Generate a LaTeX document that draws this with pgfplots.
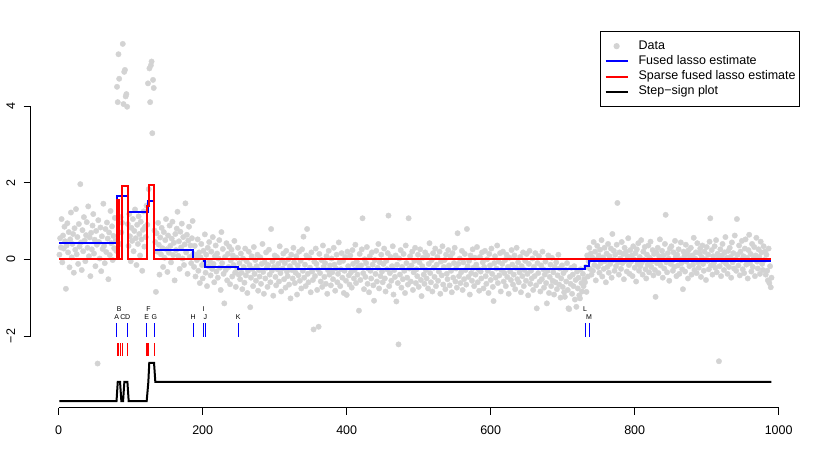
\documentclass[border=0pt]{standalone}
\usepackage{fontspec}
\setmainfont{Liberation Sans}
\usepackage{pgfplots}
\usepackage{pgfplotstable}
\pgfplotsset{compat=1.18}
\definecolor{ptgray}{HTML}{D3D3D3}

% observations, one per index 1..990
\pgfplotstableread[row sep=\\]{
y\\
0.12\\ 0.55\\ 0.31\\ 1.05\\ -0.08\\ 0.62\\ 0.28\\ 0.85\\ 0.47\\ -0.77\\
0.36\\ 0.94\\ 0.18\\ 0.71\\ -0.21\\ 0.52\\ 1.22\\ 0.05\\ 0.40\\ 0.66\\
-0.35\\ 0.81\\ 0.25\\ 1.31\\ 0.13\\ 0.58\\ -0.12\\ 0.92\\ 0.33\\ 1.96\\
0.44\\ -0.28\\ 0.76\\ 0.21\\ 1.10\\ 0.49\\ -0.05\\ 0.63\\ 0.97\\ 0.30\\
1.38\\ 0.08\\ 0.57\\ -0.44\\ 0.69\\ 0.26\\ 0.88\\ 1.18\\ 0.15\\ 0.51\\
-0.18\\ 0.74\\ 0.38\\ -2.72\\ 1.02\\ 0.45\\ 0.02\\ 0.83\\ -0.31\\ 0.60\\
0.27\\ 1.45\\ 0.35\\ -0.10\\ 0.79\\ 0.19\\ 0.96\\ 0.54\\ -0.52\\ 0.70\\
0.11\\ 1.26\\ 0.42\\ 0.86\\ -0.02\\ 0.61\\ 0.29\\ 1.08\\ 0.48\\ 0.22\\
4.50\\ 4.10\\ 5.35\\ 4.71\\ 0.40\\ 1.10\\ 0.70\\ 0.95\\ 5.62\\ 4.05\\
4.89\\ 4.94\\ 4.25\\ 4.31\\ 3.98\\ 0.92\\ 0.35\\ 1.18\\ 0.60\\ -0.05\\
0.82\\ 0.48\\ 1.05\\ 0.21\\ 0.74\\ 1.30\\ 0.55\\ -0.15\\ 0.90\\ 0.40\\
1.12\\ 0.66\\ 0.10\\ 0.98\\ 0.52\\ -0.30\\ 0.77\\ 1.25\\ 0.33\\ 0.85\\
0.58\\ 1.40\\ 0.90\\ 4.59\\ 1.83\\ 4.98\\ 4.10\\ 5.06\\ 5.16\\ 3.29\\
4.68\\ 4.47\\ 0.75\\ 0.45\\ -0.85\\ 0.68\\ 0.20\\ 0.95\\ 0.38\\ -0.40\\
0.57\\ 0.13\\ 0.82\\ 0.29\\ -0.20\\ 0.71\\ 0.04\\ 0.50\\ 1.05\\ 0.26\\
-0.33\\ 0.62\\ 0.17\\ 0.88\\ 0.35\\ -0.08\\ 0.54\\ 0.98\\ 0.11\\ 0.43\\
-0.55\\ 0.66\\ 0.24\\ 0.80\\ 1.24\\ 0.09\\ 0.47\\ -0.25\\ 0.72\\ 0.31\\
0.93\\ 0.02\\ 0.58\\ -0.15\\ 0.39\\ 1.46\\ 0.18\\ 0.64\\ -0.38\\ 0.49\\
0.85\\ 0.06\\ 0.36\\ -0.10\\ 0.55\\ 1.00\\ 0.14\\ -0.20\\ 0.35\\ -0.45\\
0.10\\ -0.02\\ 0.52\\ -0.30\\ 0.18\\ -0.62\\ 0.05\\ 0.40\\ -0.15\\ -0.50\\
0.22\\ -0.08\\ 0.65\\ -0.35\\ 0.12\\ -0.70\\ 0.30\\ -0.18\\ 0.45\\ -0.05\\
-0.42\\ 0.20\\ -0.25\\ 0.58\\ -0.12\\ -0.60\\ 0.08\\ 0.36\\ -0.32\\ 0.15\\
-0.48\\ 0.02\\ 0.50\\ -0.22\\ -0.80\\ 0.71\\ -0.10\\ 0.27\\ -0.38\\ -1.15\\
0.06\\ -0.28\\ 0.42\\ -0.55\\ 0.14\\ -0.20\\ 0.33\\ -0.65\\ -0.03\\ 0.25\\
-0.45\\ 0.10\\ -0.15\\ 0.48\\ -0.35\\ -0.72\\ 0.04\\ -0.25\\ 0.30\\ -0.40\\
-0.10\\ -0.52\\ 0.15\\ -0.35\\ -0.78\\ 0.02\\ -0.20\\ -0.61\\ 0.28\\ -0.42\\
-0.05\\ -0.88\\ -0.30\\ 0.20\\ -0.15\\ -1.25\\ -0.48\\ 0.08\\ -0.25\\ -0.70\\
0.32\\ -0.38\\ -0.02\\ -0.56\\ -0.18\\ 0.12\\ -0.82\\ -0.28\\ -0.45\\ 0.05\\
-0.64\\ -0.12\\ 0.40\\ -0.33\\ -0.90\\ -0.08\\ -0.50\\ 0.18\\ -0.22\\ -0.72\\
-0.15\\ 0.25\\ -0.40\\ -0.60\\ 0.79\\ -0.30\\ -0.05\\ -0.95\\ -0.20\\ 0.10\\
-0.46\\ -0.68\\ 0.06\\ -0.26\\ -0.12\\ -0.58\\ 0.34\\ -0.36\\ -0.84\\ -0.02\\
-0.24\\ 0.15\\ -0.52\\ -0.10\\ -0.74\\ 0.22\\ -0.32\\ -0.44\\ 0.00\\ -0.66\\
-0.18\\ -1.02\\ 0.12\\ -0.28\\ -0.50\\ 0.30\\ -0.08\\ -0.62\\ -0.35\\ 0.08\\
-0.92\\ -0.16\\ -0.42\\ 0.20\\ -0.56\\ -0.04\\ -0.76\\ 0.26\\ -0.30\\ 0.59\\
-0.48\\ -0.14\\ -0.70\\ 0.10\\ 0.79\\ -0.38\\ -0.60\\ 0.04\\ -0.22\\ -0.86\\
0.18\\ -0.32\\ -0.54\\ -1.83\\ -0.06\\ -0.44\\ 0.28\\ -0.12\\ -0.80\\ -0.26\\
-1.76\\ 0.14\\ -0.36\\ -0.58\\ -0.02\\ -0.72\\ 0.36\\ -0.20\\ -0.46\\ -0.10\\
-0.64\\ 0.08\\ -0.90\\ -0.28\\ 0.22\\ -0.40\\ -0.16\\ -0.68\\ 0.02\\ -0.34\\
-0.52\\ 0.30\\ -0.14\\ -0.82\\ -0.24\\ 0.12\\ -0.60\\ -0.38\\ 0.44\\ -0.08\\
-0.70\\ -0.26\\ 0.16\\ -0.48\\ -0.04\\ -0.88\\ -0.30\\ 0.06\\ -0.56\\ -0.93\\
0.20\\ -0.18\\ -0.42\\ -0.66\\ 0.10\\ -0.34\\ -0.74\\ 0.24\\ -0.12\\ -0.50\\
-0.28\\ 0.38\\ -0.62\\ -0.06\\ -0.40\\ -0.20\\ -1.34\\ 0.14\\ -0.54\\ -0.16\\
0.26\\ 1.07\\ -0.36\\ -0.78\\ 0.00\\ -0.46\\ -0.10\\ 0.32\\ -0.64\\ -0.24\\
-0.86\\ 0.08\\ -0.30\\ -0.50\\ 0.18\\ -0.14\\ -0.68\\ -1.08\\ -0.02\\ -0.38\\
0.22\\ -0.58\\ -0.22\\ 0.40\\ -0.76\\ -0.08\\ -0.44\\ 0.12\\ -0.32\\ -0.60\\
-0.12\\ 0.28\\ -0.50\\ -0.84\\ -0.04\\ -0.26\\ 0.16\\ 1.14\\ -0.70\\ -0.36\\
0.06\\ -0.56\\ -0.18\\ 0.34\\ -0.92\\ -0.28\\ -0.46\\ 0.10\\ -1.10\\ -0.14\\
-0.62\\ -2.22\\ 0.02\\ -0.40\\ 0.24\\ -0.74\\ -0.20\\ -0.52\\ 0.14\\ -0.30\\
-0.88\\ 0.36\\ -0.10\\ -0.48\\ -0.66\\ 1.07\\ -0.24\\ 0.08\\ -0.58\\ -0.16\\
0.20\\ -0.80\\ -0.34\\ -0.04\\ 0.30\\ -0.62\\ -0.26\\ -0.44\\ 0.12\\ -0.72\\
-0.08\\ 0.26\\ -0.54\\ -0.96\\ -0.18\\ 0.04\\ -0.40\\ -0.64\\ 0.18\\ -0.28\\
-0.50\\ 0.10\\ -0.76\\ -0.12\\ 0.42\\ -0.36\\ -0.60\\ -0.02\\ -0.84\\ 0.16\\
-0.22\\ -0.46\\ 0.28\\ -0.70\\ -0.14\\ 0.06\\ -0.56\\ -0.32\\ 0.20\\ -0.90\\
-0.06\\ -0.42\\ 0.34\\ -0.66\\ -0.20\\ -0.02\\ -0.78\\ 0.12\\ -0.38\\ -0.52\\
0.24\\ -0.16\\ -0.68\\ 0.08\\ -0.30\\ -0.86\\ 0.16\\ -0.48\\ -0.10\\ 0.30\\
-0.58\\ -0.24\\ -0.74\\ 0.68\\ -0.12\\ -0.44\\ 0.02\\ -0.62\\ -0.34\\ 0.22\\
-0.80\\ -0.08\\ -0.52\\ 0.14\\ -0.28\\ -0.66\\ 0.79\\ -0.18\\ -0.46\\ -0.04\\
-0.92\\ 0.10\\ -0.36\\ -0.56\\ 0.26\\ -0.22\\ -0.70\\ 0.04\\ -0.40\\ -0.14\\
0.32\\ -0.60\\ -0.26\\ -0.82\\ 0.06\\ -0.32\\ -0.50\\ 0.18\\ -0.08\\ -0.76\\
-0.20\\ 0.22\\ -0.44\\ -0.64\\ 0.00\\ -0.30\\ -0.88\\ 0.14\\ -0.16\\ -0.54\\
0.28\\ -0.38\\ -0.72\\ -1.09\\ -0.10\\ 0.08\\ -0.48\\ -0.24\\ 0.36\\ -0.62\\
-0.06\\ -0.42\\ 0.16\\ -0.84\\ -0.28\\ -0.12\\ 0.20\\ -0.58\\ -0.36\\ -0.02\\
-0.70\\ 0.12\\ -0.46\\ -0.20\\ -0.90\\ 0.04\\ -0.32\\ -0.54\\ 0.24\\ -0.14\\
-0.66\\ -0.40\\ 0.10\\ -0.78\\ -0.22\\ 0.30\\ -0.52\\ -0.08\\ -0.60\\ -0.34\\
0.06\\ -0.86\\ -0.18\\ -0.44\\ 0.18\\ -0.70\\ -0.28\\ -0.04\\ -0.56\\ 0.14\\
-0.38\\ -0.94\\ -0.12\\ 0.22\\ -0.64\\ -0.30\\ -0.50\\ 0.02\\ -0.80\\ -0.20\\
-0.44\\ 0.16\\ -0.68\\ -1.28\\ -0.10\\ -0.36\\ 0.08\\ -0.58\\ -0.84\\ -0.16\\
-0.52\\ 0.20\\ -0.26\\ -0.74\\ -0.40\\ -0.06\\ -0.62\\ -1.15\\ -0.30\\ 0.10\\
-0.88\\ -0.46\\ -0.14\\ -0.70\\ 0.04\\ -0.56\\ -0.34\\ -0.92\\ -0.20\\ -0.60\\
-0.08\\ -0.78\\ -0.42\\ 0.12\\ -0.66\\ -0.24\\ -1.00\\ -0.50\\ -0.16\\ -0.72\\
-0.36\\ -0.86\\ -0.98\\ -0.28\\ -0.58\\ -0.10\\ -0.80\\ -1.28\\ -1.30\\ -0.46\\
-0.64\\ -0.22\\ -0.90\\ -0.40\\ -0.70\\ -0.18\\ -1.05\\ -0.54\\ -1.24\\ -0.32\\
-0.76\\ -0.48\\ -0.94\\ -1.02\\ -0.26\\ -0.62\\ -0.84\\ -0.38\\ -0.70\\ -0.52\\
-0.60\\ -0.20\\ -0.85\\ 0.10\\ -0.45\\ -0.05\\ 0.30\\ -0.25\\ 0.15\\ -0.40\\
0.05\\ -0.30\\ 0.45\\ -0.15\\ 0.20\\ -0.55\\ 0.00\\ 0.35\\ -0.20\\ 0.10\\
-0.35\\ 0.25\\ -0.10\\ 0.50\\ -0.45\\ 0.05\\ -0.25\\ 0.30\\ -0.05\\ -0.60\\
0.15\\ -0.20\\ 0.40\\ -0.35\\ 0.08\\ -0.12\\ 0.28\\ -0.48\\ 0.66\\ -0.02\\
0.22\\ -0.30\\ 0.12\\ -0.18\\ 0.38\\ 1.47\\ -0.08\\ -0.40\\ 0.18\\ 0.02\\
-0.25\\ 0.45\\ -0.10\\ 0.14\\ -0.52\\ 0.30\\ -0.04\\ 0.20\\ -0.32\\ 0.08\\
0.55\\ -0.15\\ -0.38\\ 0.24\\ -0.06\\ 0.10\\ -0.44\\ 0.34\\ 0.00\\ -0.22\\
0.16\\ -0.58\\ 0.26\\ -0.12\\ 0.42\\ -0.30\\ 0.06\\ -0.18\\ 0.50\\ -0.08\\
-0.40\\ 0.20\\ -0.02\\ 0.32\\ -0.26\\ -0.50\\ 0.12\\ -0.14\\ 0.36\\ -0.34\\
0.04\\ 0.46\\ -0.20\\ -0.06\\ 0.24\\ -0.42\\ 0.14\\ -0.28\\ -0.98\\ 0.18\\
-0.10\\ 0.30\\ -0.36\\ 0.08\\ 0.52\\ -0.16\\ -0.02\\ 0.22\\ -0.48\\ 0.10\\
-0.24\\ 0.40\\ 1.16\\ -0.08\\ -0.34\\ 0.16\\ 0.02\\ -0.56\\ 0.28\\ -0.12\\
0.34\\ -0.04\\ -0.30\\ 0.18\\ -0.20\\ 0.48\\ 0.06\\ -0.44\\ 0.12\\ -0.16\\
0.26\\ -0.38\\ 0.00\\ 0.44\\ -0.10\\ -0.26\\ -0.78\\ 0.20\\ 0.08\\ -0.32\\
0.38\\ -0.06\\ 0.14\\ -0.50\\ 0.24\\ -0.18\\ 0.04\\ 0.30\\ -0.40\\ 0.10\\
-0.14\\ 0.56\\ -0.28\\ 0.02\\ 0.18\\ -0.36\\ 0.42\\ -0.08\\ -0.22\\ 0.16\\
0.28\\ -0.46\\ 0.06\\ 0.36\\ -0.12\\ -0.30\\ 0.20\\ 0.00\\ -0.54\\ 0.32\\
-0.04\\ 0.12\\ -0.26\\ 0.46\\ 1.07\\ -0.16\\ 0.24\\ -0.40\\ 0.08\\ -0.10\\
0.34\\ -0.22\\ 0.50\\ -0.34\\ 0.14\\ 0.02\\ -2.66\\ -0.18\\ 0.26\\ -0.44\\
0.10\\ 0.40\\ -0.06\\ -0.28\\ 0.18\\ 0.58\\ -0.12\\ 0.04\\ -0.38\\ 0.22\\
-0.20\\ 0.30\\ 0.06\\ -0.48\\ 0.44\\ -0.08\\ 0.16\\ -0.24\\ 0.62\\ 0.00\\
-0.30\\ 1.05\\ 0.12\\ -0.16\\ 0.36\\ -0.42\\ 0.20\\ -0.02\\ 0.48\\ -0.26\\
0.08\\ -0.36\\ 0.28\\ 0.52\\ -0.14\\ 0.04\\ -0.50\\ 0.24\\ 0.64\\ -0.10\\
0.14\\ -0.32\\ 0.40\\ -0.20\\ 0.02\\ 0.32\\ -0.44\\ 0.10\\ 0.56\\ -0.06\\
-0.24\\ 0.26\\ 0.06\\ -0.38\\ 0.46\\ 0.18\\ -0.12\\ -0.28\\ 0.34\\ -0.02\\
0.20\\ -0.40\\ 0.12\\ -0.30\\ -0.55\\ 0.28\\ -0.62\\ -0.18\\ -0.73\\ -0.48\\
}\obs

\begin{document}
\begin{tikzpicture}
\path[use as bounding box] (-30.7bp,-45.3bp) rectangle (799.3bp,407.7bp);
\begin{axis}[
 at={(0,0)},anchor=south west,
 scale only axis,width=769.3bp,height=377bp,
 xmin=-38.9,xmax=1029.6,ymin=-3.872,ymax=5.964,
 clip marker paths=true,
 axis x line*=bottom,axis y line*=left,
 axis line style={draw=none},
 tick align=outside,major tick length=7.2bp,
 tick style={black,line width=0.75bp},
 xtick={0,200,400,600,800,1000},
 xticklabels={0,200,400,600,800,1000},
 ytick={-2,0,2,4},
 yticklabels={−2,0,2,4},
 tick label style={font=\fontsize{12.5bp}{15bp}\selectfont},
 xticklabel style={anchor=base,yshift=-19.5bp},
 yticklabel style={rotate=90,anchor=base,yshift=8.5bp},
 legend image code/.code={\draw[#1] (0bp,0bp) -- (22bp,0bp);},
 legend cell align=left,
 legend style={at={(1,1)},anchor=north east,draw=black,line width=0.75bp,fill=white,
  font=\fontsize{12.5bp}{15bp}\selectfont,inner xsep=4bp,inner ysep=7.5bp,
  row sep=0pt,column sep=10bp,
  nodes={inner sep=0pt,text height=10.5bp,text depth=4.7bp}},
 after end axis/.code={
  \draw[black,line width=0.75bp] (axis cs:0,-3.872) -- (axis cs:1000,-3.872);
  \draw[black,line width=0.75bp] (axis cs:-38.9,-2) -- (axis cs:-38.9,4);
 },
]
\addplot[only marks,mark=*,mark size=2.7bp,draw=ptgray,fill=ptgray,
 legend image code/.code={\fill[ptgray] (11bp,0bp) circle (2.7bp);}]
 table[x expr=\coordindex+1,y=y] {\obs};
\addlegendentry{Data}

% fused lasso estimate
\addplot[draw=blue,line width=2bp,mark=none] coordinates {
 (1,0.42) (81.4,0.42) (81.4,1.66) (95.8,1.66) (95.8,1.23) (123.6,1.23)
 (123.6,1.53) (132.6,1.53) (132.6,0.25) (186.9,0.25) (186.9,0.00)
 (201.4,0.00) (201.4,-0.05) (203.6,-0.05) (203.6,-0.19) (249.4,-0.19)
 (249.4,-0.25) (730.6,-0.25) (730.6,-0.17) (736.5,-0.17) (736.5,-0.05)
 (990,-0.05)};
\addlegendentry{Fused lasso estimate}

% sparse fused lasso estimate
\addplot[draw=red,line width=2bp,mark=none] coordinates {
 (1,0) (81.6,0) (81.6,1.54) (84.1,1.54) (84.1,0) (88.6,0) (88.6,1.90)
 (95.6,1.90) (95.6,0) (122.4,0) (122.4,1.40) (124.8,1.40) (124.8,1.95)
 (132.8,1.95) (132.8,0) (990,0)};
\addlegendentry{Sparse fused lasso estimate}

% step-sign plot
\addplot[draw=black,line width=2bp,mark=none] coordinates {
 (1,-3.70) (80.3,-3.70) (82.0,-3.20) (85.2,-3.20) (87.0,-3.70)
 (89.4,-3.70) (91.2,-3.20) (95.4,-3.20) (97.2,-3.70) (122.2,-3.70)
 (124.5,-3.20) (125.8,-2.70) (132.4,-2.70) (134.2,-3.20) (990,-3.20)};
\addlegendentry{Step−sign plot}

% change point marks
\addplot[draw=blue,line width=0.9bp,mark=none,forget plot,unbounded coords=jump] coordinates {
 (80.6,-1.67) (80.6,-2.02) (80.6,nan)
 (95.3,-1.67) (95.3,-2.02) (95.3,nan)
 (122.2,-1.67) (122.2,-2.02) (122.2,nan)
 (132.8,-1.67) (132.8,-2.02) (132.8,nan)
 (186.9,-1.67) (186.9,-2.02) (186.9,nan)
 (201.4,-1.67) (201.4,-2.02) (201.4,nan)
 (203.6,-1.67) (203.6,-2.02) (203.6,nan)
 (249.4,-1.67) (249.4,-2.02) (249.4,nan)
 (731,-1.67) (731,-2.02) (731,nan)
 (736.5,-1.67) (736.5,-2.02)};
\addplot[draw=red,line width=0.9bp,mark=none,forget plot,unbounded coords=jump] coordinates {
 (81.2,-2.19) (81.2,-2.515) (81.2,nan)
 (83.6,-2.19) (83.6,-2.515) (83.6,nan)
 (86.0,-2.19) (86.0,-2.515) (86.0,nan)
 (88.4,-2.19) (88.4,-2.515) (88.4,nan)
 (95.4,-2.19) (95.4,-2.515) (95.4,nan)
 (122.2,-2.19) (122.2,-2.515) (122.2,nan)
 (123.4,-2.19) (123.4,-2.515) (123.4,nan)
 (124.6,-2.19) (124.6,-2.515) (124.6,nan)
 (132.8,-2.19) (132.8,-2.515)};

\node[font=\fontsize{7bp}{8bp}\selectfont,anchor=base,inner sep=0pt] at (axis cs:80.6,-1.566) {A};
\node[font=\fontsize{7bp}{8bp}\selectfont,anchor=base,inner sep=0pt] at (axis cs:84.0,-1.35) {B};
\node[font=\fontsize{7bp}{8bp}\selectfont,anchor=base,inner sep=0pt] at (axis cs:89.0,-1.566) {C};
\node[font=\fontsize{7bp}{8bp}\selectfont,anchor=base,inner sep=0pt] at (axis cs:95.8,-1.566) {D};
\node[font=\fontsize{7bp}{8bp}\selectfont,anchor=base,inner sep=0pt] at (axis cs:122.2,-1.566) {E};
\node[font=\fontsize{7bp}{8bp}\selectfont,anchor=base,inner sep=0pt] at (axis cs:124.6,-1.35) {F};
\node[font=\fontsize{7bp}{8bp}\selectfont,anchor=base,inner sep=0pt] at (axis cs:132.8,-1.566) {G};
\node[font=\fontsize{7bp}{8bp}\selectfont,anchor=base,inner sep=0pt] at (axis cs:186.9,-1.566) {H};
\node[font=\fontsize{7bp}{8bp}\selectfont,anchor=base,inner sep=0pt] at (axis cs:201.4,-1.35) {I};
\node[font=\fontsize{7bp}{8bp}\selectfont,anchor=base,inner sep=0pt] at (axis cs:203.6,-1.566) {J};
\node[font=\fontsize{7bp}{8bp}\selectfont,anchor=base,inner sep=0pt] at (axis cs:249.4,-1.566) {K};
\node[font=\fontsize{7bp}{8bp}\selectfont,anchor=base,inner sep=0pt] at (axis cs:731,-1.35) {L};
\node[font=\fontsize{7bp}{8bp}\selectfont,anchor=base,inner sep=0pt] at (axis cs:736.5,-1.566) {M};
\end{axis}
\end{tikzpicture}
\end{document}
